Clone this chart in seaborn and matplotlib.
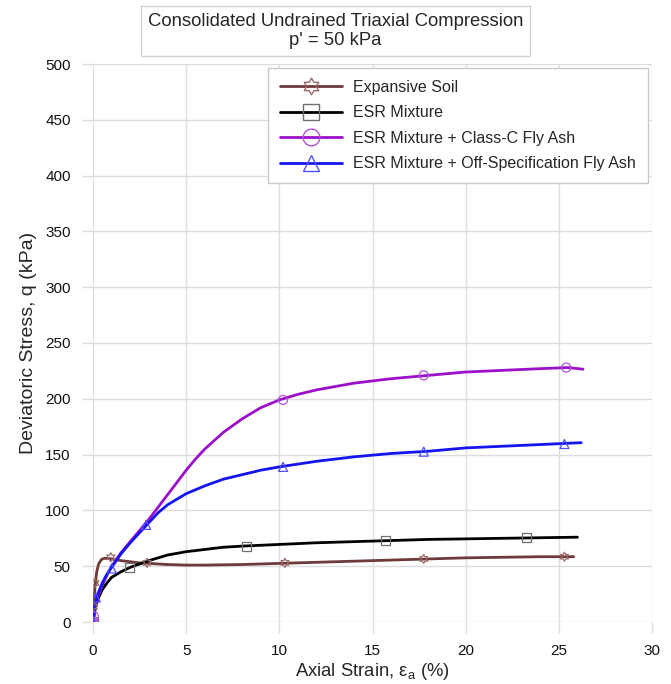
import numpy as np
import pandas as pd
import matplotlib
matplotlib.use("Agg")
import matplotlib.pyplot as plt
from matplotlib.lines import Line2D
from matplotlib.path import Path
import seaborn as sns

# ---------------- data ----------------
series_names = ["Expansive Soil", "ESR Mixture",
                "ESR Mixture + Class-C Fly Ash",
                "ESR Mixture + Off-Specification Fly Ash"]

soil_strain = [0, 0.05, 0.1, 0.2, 0.3, 0.45, 0.6, 0.75, 1.0, 1.5, 2.0, 2.5, 3,
               4, 5, 6, 8, 10, 12, 14, 16, 18, 20, 22, 24, 25.8]
soil_q = [0, 14, 30, 45, 52, 56, 57, 57, 56.5, 55, 54, 53, 52.5,
          51.5, 51, 51, 51.5, 52.5, 53.5, 54.5, 55.5, 56.5, 57.5, 58, 58.5, 58.5]

esr_strain = [0, 0.1, 0.25, 0.5, 0.75, 1, 1.5, 2, 2.5, 3, 4, 5, 6, 7, 8, 10,
              12, 14, 16, 18, 20, 22, 24, 26]
esr_q = [0, 10, 20, 29, 35, 40, 45, 49, 52, 55, 60, 63, 65, 67, 68, 69.5,
         71, 72, 73, 74, 74.5, 75, 75.5, 76]

cfa_strain = [0, 0.1, 0.25, 0.5, 0.75, 1, 1.5, 2, 2.5, 3, 3.5, 4, 4.5, 5, 5.5,
              6, 7, 8, 9, 10, 11, 12, 14, 16, 18, 20, 22, 24, 25.5, 26.3]
cfa_q = [0, 12, 22, 33, 42, 50, 62, 72, 82, 92, 103, 114, 125, 136, 146,
         155, 170, 182, 192, 199, 204, 208, 214, 218, 221, 224, 225.5, 227, 228, 226.5]

ofa_strain = [0, 0.1, 0.25, 0.5, 0.75, 1, 1.5, 2, 2.5, 3, 3.5, 4, 4.5, 5, 6,
              7, 8, 9, 10, 12, 14, 16, 18, 20, 22, 24, 26.2]
ofa_q = [0, 14, 25, 35, 43, 49, 61, 71, 80, 89, 98, 105, 110, 115, 122,
         128, 132, 136, 139, 144, 148, 151, 153, 156, 157.5, 159, 160.7]

# sparse marker points
soil_mk_strain = [0, 0.02, 0.1, 0.95, 2.9, 10.3, 17.75, 25.3]
soil_mk_q = [0, 14, 35, 58, 53, 53, 56.5, 58.5]
esr_mk_strain = [0, 1.95, 8.25, 15.7, 23.25]
esr_mk_q = [0, 49, 68, 72.8, 75.5]
cfa_mk_strain = [0, 0.05, 10.2, 17.75, 25.4]
cfa_mk_q = [0, 5, 199, 221, 228]
ofa_mk_strain = [0, 0.15, 1.0, 2.85, 10.2, 17.75, 25.3]
ofa_mk_q = [0, 22, 48, 87, 139, 152.6, 159.5]

x_ticks = [0, 5, 10, 15, 20, 25, 30]
y_ticks = [0, 50, 100, 150, 200, 250, 300, 350, 400, 450, 500]

# ---------------- styling ----------------
colors = ["#6E3A3A", "#000000", "#9B10C8", "#1414F0"]
marker_colors = ["#9A6A6A", "#707070", "#B050E0", "#5050FF"]

ang = np.deg2rad(90 + 30 * np.arange(12))
rad = np.where(np.arange(12) % 2 == 0, 1.0, 1 / np.sqrt(3))
hex_verts = np.column_stack([rad * np.cos(ang), rad * np.sin(ang)])
hex_verts = np.vstack([hex_verts, hex_verts[:1]])
hexagram = Path(hex_verts, closed=True)
markers = [hexagram, "s", "o", "^"]

sns.set_theme(style="white")
plt.rcParams["font.family"] = ["Liberation Sans", "DejaVu Sans"]

fig = plt.figure(figsize=(6.71, 6.84), dpi=100)
ax = fig.add_axes([93 / 671, 1 - 622 / 684, (652 - 93) / 671, (622 - 64) / 684])

line_x = [soil_strain, esr_strain, cfa_strain, ofa_strain]
line_y = [soil_q, esr_q, cfa_q, ofa_q]
mk_x = [soil_mk_strain, esr_mk_strain, cfa_mk_strain, ofa_mk_strain]
mk_y = [soil_mk_q, esr_mk_q, cfa_mk_q, ofa_mk_q]

frames = []
for name, xs, ys in zip(series_names, line_x, line_y):
    frames.append(pd.DataFrame({"strain": xs, "q": ys, "series": name}))
df = pd.concat(frames, ignore_index=True)

sns.lineplot(data=df, x="strain", y="q", hue="series", hue_order=series_names,
             palette=dict(zip(series_names, colors)), sort=False,
             estimator=None, linewidth=2.0, legend=False, ax=ax, zorder=3)

for xs, ys, m, mc in zip(mk_x, mk_y, markers, marker_colors):
    sns.scatterplot(x=xs, y=ys, marker=m, s=42, facecolor="none",
                    edgecolor=mc, linewidth=0.9, ax=ax, zorder=4)

ax.set_xlim(0, 30)
ax.set_ylim(0, 500)
ax.set_xticks(x_ticks)
ax.set_yticks(y_ticks)
ax.grid(True, color="#DDDDDD", linewidth=1.0)
ax.set_axisbelow(True)
for s in ax.spines.values():
    s.set_visible(False)
ax.tick_params(axis="both", which="both", length=8, width=1.0,
               color="#DDDDDD", labelsize=11, labelcolor="#111111",
               bottom=True, left=True, pad=8)

ax.set_xlabel(r"Axial Strain, $\mathregular{\varepsilon_a}$ (%)", fontsize=13.3, labelpad=2)
ax.set_ylabel("Deviatoric Stress, q (kPa)", fontsize=14, labelpad=6)

handles = [Line2D([0], [0], color=c, linewidth=2.0, marker=m, markersize=12,
                  markerfacecolor="none", markeredgecolor=mc, markeredgewidth=1.0)
           for c, m, mc in zip(colors, markers, marker_colors)]
leg = ax.legend(handles, series_names, loc="upper right", fontsize=11.5,
                frameon=True, fancybox=False, framealpha=1, edgecolor="#C8C8C8",
                handlelength=3.9, handletextpad=0.7, labelspacing=0.65,
                borderpad=0.75, borderaxespad=0.25)
leg.get_frame().set_linewidth(1.0)

fig.text(0.5, 1 - 31 / 684,
         "Consolidated Undrained Triaxial Compression\np' = 50 kPa",
         ha="center", va="center", fontsize=13.3, linespacing=1.2,
         bbox=dict(boxstyle="square,pad=0.38", facecolor="white",
                   edgecolor="#D0D0D0", linewidth=1.0))

fig.savefig("out.png", dpi=100)
